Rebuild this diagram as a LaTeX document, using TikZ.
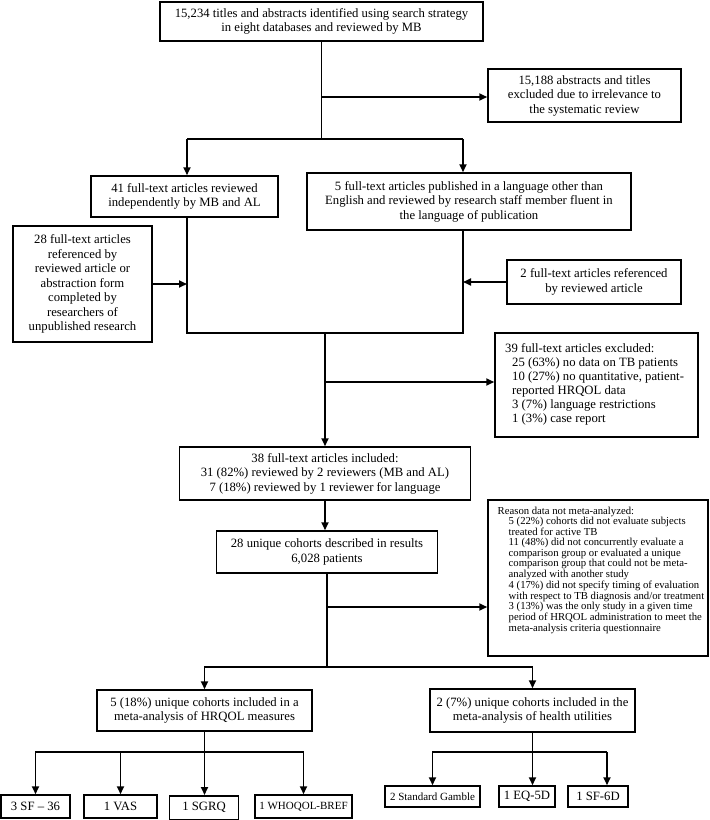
\documentclass[tikz,border=0pt]{standalone}
\usepackage{fontspec}
\setmainfont{Liberation Serif}
\usetikzlibrary{arrows.meta}
\newcommand\msz{\fontsize{12.7pt}{14.5pt}\selectfont}
\newcommand\ssz{\fontsize{11pt}{12pt}\selectfont}
\newcommand\rsz{\fontsize{10.7pt}{9.6pt}\selectfont}
\newcommand\ind[1]{\hspace*{#1pt}}
\begin{document}
\begin{tikzpicture}[x=1pt,y=-1pt,
  ln/.style={line width=1.7pt},
  arr/.style={line width=1.7pt,-{Triangle[length=8pt,width=7pt]}},
  box/.style={draw,line width=1.5pt,inner sep=0pt,align=center,font=\msz},
  sbox/.style={box,font=\ssz},
  txt/.style={inner sep=0pt,align=left}]
\fill[white] (0,0) rectangle (710,820);
\useasboundingbox (0,0) rectangle (710,820);

\node[box,minimum width=323pt,minimum height=39pt] (b1) at (321.5,21.5)
  {15,234 titles and abstracts identified using search strategy\\in eight databases and reviewed by MB};
\node[box,minimum width=193pt,minimum height=53pt] (b2) at (584.5,95.5)
  {15,188 abstracts and titles\\excluded due to irrelevance to\\the systematic review};
\node[box,minimum width=187pt,minimum height=41pt] (b41) at (184.5,196.5)
  {41 full-text articles reviewed\\independently by MB and AL};
\node[box,minimum width=324pt,minimum height=57pt] (b5) at (469,201.5)
  {5 full-text articles published in a language other than\\English and reviewed by research staff member fluent in\\the language of publication};
\node[box,minimum width=139pt,minimum height=116pt] (b28) at (82.5,284)
  {28 full-text articles\\referenced by\\reviewed article or\\abstraction form\\completed by\\researchers of\\unpublished research};
\node[box,minimum width=174pt,minimum height=44pt] (b2r) at (594,282)
  {2 full-text articles referenced\\by reviewed article};
\node[box,minimum width=203pt,minimum height=104pt] (b39) at (596.5,385) {};
\node[txt,font={\fontsize{12.7pt}{14pt}\selectfont},anchor=west] (t39) at (505,384)
  {39 full-text articles excluded:\\
   \ind{7}25 (63\%) no data on TB patients\\
   \ind{7}10 (27\%) no quantitative, patient-\\
   \ind{7}reported HRQOL data\\
   \ind{7}3 (7\%) language restrictions\\
   \ind{7}1 (3\%) case report};
\node[box,minimum width=291pt,minimum height=53pt] (b38) at (325,473.5)
  {38 full-text articles included:\\31 (82\%) reviewed by 2 reviewers (MB and AL)\\7 (18\%) reviewed by 1 reviewer for language};
\node[box,minimum width=221pt,minimum height=42pt] (b28u) at (327,552)
  {28 unique cohorts described in results\\6,028 patients};
\node[box,minimum width=220pt,minimum height=156pt] (reason) at (598,578) {};
\node[txt,font=\rsz,anchor=north west] (treason) at (497.5,506.5)
  {Reason data not meta-analyzed:\\
   \ind{11}5 (22\%) cohorts did not evaluate subjects\\
   \ind{11}treated for active TB\\
   \ind{11}11 (48\%) did not concurrently evaluate a\\
   \ind{11}comparison group or evaluated a unique\\
   \ind{11}comparison group that could not be meta-\\
   \ind{11}analyzed with another study\\
   \ind{11}4 (17\%) did not specify timing of evaluation\\
   \ind{11}with respect to TB diagnosis and/or treatment\\
   \ind{11}3 (13\%) was the only study in a given time\\
   \ind{11}period of HRQOL administration to meet the\\
   \ind{11}meta-analysis criteria questionnaire};
\node[box,minimum width=215pt,minimum height=41pt] (b5h) at (204.5,710.5)
  {5 (18\%) unique cohorts included in a\\meta-analysis of HRQOL measures};
\node[box,minimum width=205pt,minimum height=43pt] (b2h) at (532.5,710.5)
  {2 (7\%) unique cohorts included in the\\meta-analysis of health utilities};
\node[box,minimum width=69pt,minimum height=23pt] (sf36) at (35.5,806.5) {3 SF – 36};
\node[box,minimum width=73pt,minimum height=23pt] (vas) at (120.5,806.5) {1 VAS};
\node[box,minimum width=69pt,minimum height=23.5pt] (sgrq) at (204,807.5) {1 SGRQ};
\node[sbox,minimum width=97pt,minimum height=23pt] (whoqol) at (303.5,806.5) {1 WHOQOL-BREF};
\node[sbox,minimum width=95pt,minimum height=21pt] (sg) at (432.5,796.5) {2 Standard Gamble};
\node[box,minimum width=56pt,minimum height=21pt] (eq) at (527,796.5) {1 EQ-5D};
\node[box,minimum width=60pt,minimum height=21pt] (sf6d) at (598,796.5) {1 SF-6D};

% connectors
\coordinate (s1) at (321.5,139);
\coordinate (d41) at (187,139);
\coordinate (d5) at (463,139);
\coordinate (e1) at (321.5,97);
\draw[ln] (b1.south) -- (s1);
\draw[arr] (e1) -- (e1 -| b2.west);
\draw[ln] (d41) -- (d5);
\draw[arr] (d41) -- (d41 |- b41.north);
\draw[arr] (d5) -- (d5 |- b5.north);

\coordinate (cl) at (187,333);
\coordinate (cr) at (463,333);
\coordinate (cm) at (325,333);
\draw[ln] (d41 |- b41.south) -- (cl) -- (cr) -- (d5 |- b5.south);
\draw[arr] (b28.east) -- (b28.east -| cl);
\draw[arr] (b2r.west) -- (b2r.west -| cr);
\draw[arr] (cm) -- (cm |- b38.north);
\coordinate (e2) at (325,382);
\draw[arr] (e2) -- (e2 -| b39.west);
\draw[arr] (b38.south) -- (b38.south |- b28u.north);

\coordinate (s2) at (327,667);
\coordinate (e3) at (327,607);
\draw[ln] (b28u.south) -- (s2);
\draw[arr] (e3) -- (e3 -| reason.west);
\draw[arr] (s2) -| (b5h.north);
\draw[arr] (s2) -| (b2h.north);

\coordinate (s3) at (204.5,752);
\draw[ln] (b5h.south) -- (s3);
\draw[arr] (s3) -| (sf36.north);
\draw[arr] (s3) -| (vas.north);
\draw[arr] (s3) -- (s3 |- sgrq.north);
\draw[arr] (s3) -| (whoqol.north);

\coordinate (s4) at (532.5,752);
\coordinate (d6) at (607,752);
\draw[ln] (b2h.south) -- (s4);
\draw[arr] (s4) -| (sg.north);
\draw[arr] (s4) -- (s4 |- eq.north);
\draw[ln] (s4) -- (d6);
\draw[arr] (d6) -- (d6 |- sf6d.north);
\end{tikzpicture}
\end{document}
